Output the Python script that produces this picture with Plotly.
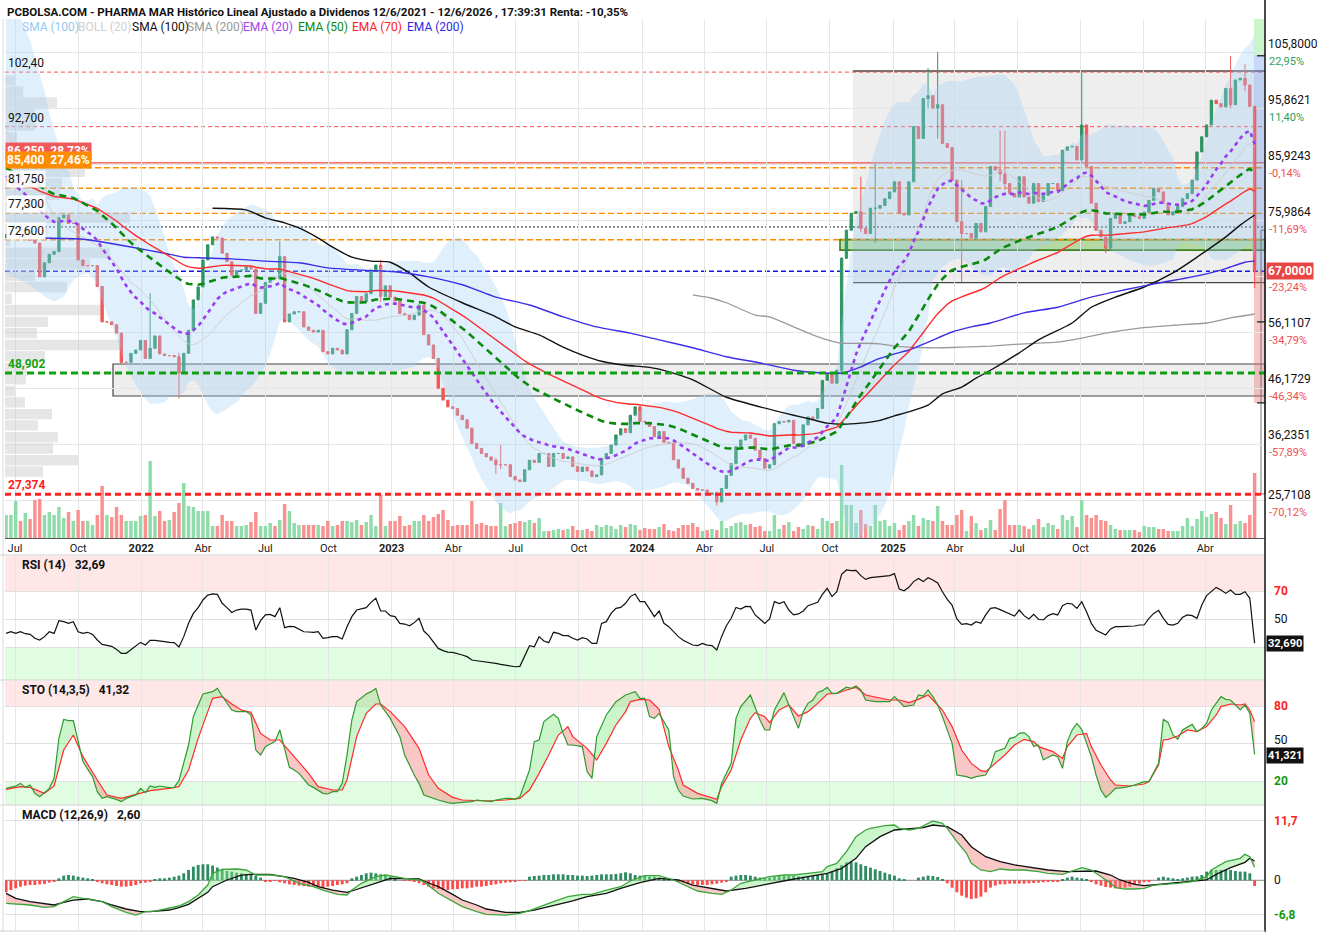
import numpy as np
import pandas as pd
import plotly.graph_objects as go

W, H = 1318, 935
FONT = "Roboto, Arial, sans-serif"

# ---------------- data ----------------
week0 = pd.Timestamp("2021-06-18")   # first weekly candle
first_open = 73.0
close = [
 73.5,74.5,75.0,73.0,74.0,72.5,72.0,66.0,68.5,70.0,
 70.5,76.5,77.0,75.5,75.5,69.0,68.0,68.0,68.0,64.3,
 58.0,58.0,57.5,56.0,50.8,50.8,52.4,53.0,54.7,51.5,
 53.3,55.5,52.3,52.0,52.0,51.8,48.9,52.4,56.5,61.9,
 64.2,69.0,71.7,73.1,72.9,70.2,68.7,66.3,67.1,67.2,
 67.8,67.4,59.5,61.3,65.0,65.8,65.7,69.6,58.0,59.4,
 59.8,59.8,57.1,56.5,56.2,56.5,52.7,52.3,53.3,53.0,
 52.3,56.6,59.5,62.5,61.6,63.0,67.2,68.1,62.5,64.4,
 62.4,61.7,59.5,59.2,58.4,59.2,61.0,55.7,53.9,51.5,
 46.2,44.1,42.9,42.6,41.4,40.6,39.1,36.4,35.5,34.6,
 34.0,33.4,32.6,32.6,32.6,30.5,29.9,29.6,31.7,33.4,
 33.0,34.6,34.6,32.3,34.6,34.6,33.7,34.0,32.3,31.4,
 32.2,31.5,30.5,30.8,33.7,34.6,36.1,37.9,39.0,38.3,
 41.4,42.9,40.3,40.2,39.4,37.6,38.5,36.6,36.4,33.5,
 32.0,30.2,29.3,28.4,28.1,28.1,27.3,27.6,26.0,28.4,
 30.7,32.8,35.8,37.0,37.9,37.3,35.2,33.7,32.0,32.6,
 39.9,40.3,40.2,40.5,36.4,35.8,39.7,41.1,40.8,42.6,
 47.6,48.8,47.1,49.4,69.3,74.3,77.3,77.6,74.6,73.7,
 78.2,78.2,78.7,79.9,81.1,82.9,77.3,77.0,82.9,92.7,
 90.6,97.7,98.2,96.0,96.6,89.7,89.0,83.2,75.8,73.7,
 73.7,72.9,75.5,74.0,78.5,85.6,85.0,84.3,82.6,80.8,
 80.2,83.8,80.2,79.1,82.6,79.4,80.5,82.6,82.6,81.3,
 88.5,89.1,89.2,86.8,93.0,85.6,79.1,74.3,73.1,71.1,
 76.4,77.3,75.5,75.8,77.0,76.7,76.4,77.5,79.6,81.7,
 81.1,79.1,77.0,77.6,78.5,79.9,80.8,83.2,88.2,90.9,
 93.0,97.4,96.8,96.2,99.5,96.6,101.0,101.3,100.1,96.3,
 67.0]
# visible long wicks: week -> (high, low)
wicks = {30: (63.1, 52.0), 36: (52.5, 44.4), 57: (72.3, 65.5), 78: (69.0, 61.5),
         102: (33.8, 31.0), 103: (36.1, 31.8), 148: (27.8, 25.3), 174: (69.5, 48.8),
         178: (83.8, 74.0), 181: (86.2, 72.0), 192: (103.1, 96.0), 194: (106.0, 90.6),
         199: (83.2, 65.1), 207: (92.0, 83.0), 208: (92.0, 81.5), 224: (102.5, 86.5),
         229: (73.0, 70.2), 255: (105.3, 96.0), 258: (103.8, 99.0), 260: (96.3, 64.0)}

vol_a = [23,23,37,17,25,19,38,39,23,26, 23,31,20,26,17,28,17,17,13,23,
         52,23,21,31,23,17,17,17,22,23, 77,22,27,17,18,26,35,55,32,31,
         27,27,27,12,12,23,17,17,12,12, 13,16,26,12,12,15,12,18,34,27,
         15,13,13,13,13,13,12,17]
vol_b = [12,13,17,17,16,18,13,16,23,12, 43,12,17,17,22,12,13,17,17,23,
         17,21,24,28,18,12,13,13,13,37, 14,15,13,12,12,35,12,14,15,17,
         16,18,15,20,7,7,8,9,8,9, 12,8,8,9,7,13,11,13,12,9, 13,11,14,13,8,10,9,9,11]
vol_c = [14,8,7,10,13,13,15,11,7,8, 9,8,17,10,12,15,16,13,14,11,
         12,7,7,23,9,13,16,7,11,9, 13,12,9,20,17,15,17,73,33,33,
         15,28,14,12,33,17,18,12,15,8, 13,17,23,12,20,18,17,32,17,13,
         13,23,28,7,22,15,8,10]
vol_d = [18,8,29,38,13,13,13,12,9,13, 19,11,15,13,9,23,18,22,11,38,
         23,20,23,18,17,13,9,8,8,8, 8,6,12,11,11,9,9,7,7,7,
         12,20,12,19,27,21,24,26,20,14, 33,14,17,15,23,65]
volume = vol_a + vol_b + vol_c + vol_d

prof_price = [100.9,98.9,97.0,94.9,92.9,90.8,88.8,86.7,84.7,82.6,80.6,78.5,76.5,74.4,72.4,
              70.3,68.3,66.2,64.2,62.1,60.1,58.0,56.0,53.9,51.9,49.8,47.8,45.7,43.7,41.6,
              39.6,37.5,35.5,33.4,31.4]
prof_vol = [10,18,52,30,30,12,8,80,80,57,55,40,125,42,5,105,85,30,62,7,97,43,32,115,40,
            22,21,10,20,47,33,53,48,73,38]

ema20_seed, ema50_seed, ema70_seed = 85.0, 85.8, 83.5
bb_up_head = [118,116,114,112,110,108,105,102,99,95,92,89.5,87.5,85,82,80.5,79.5,79.5,80]
bb_lo_head = [66.6,66.2,65.8,65.4,65.0,64.4,63.9,63.2,62.5,62.0,61.6,62.0,62.5,64.0,65.4,66.0,66.4,66.6,66.0]
bb_mid_head = [92,90.5,89,87.5,86,84.5,83,81.5,80,78.5,77,76,75,74.5,74,73.5,73,72.5,72]

sma100_pts = [(43,78.2),(50,77.9),(54,76.5),(58,75.6),(61,74.7),(65,72.9),(68,71.3),(72,69.5),
              (76,68.8),(80,68.6),(84,66.7),(88,64.2),(95,61.4),(102,58.9),(106,57.1),(111,55.7),
              (116,53.5),(120,52.1),(124,51.0),(129,50.3),(133,50.0),(136,49.6),(143,47.7),
              (150,44.6),(157,42.9),(164,41.4),(168,40.6),(171,40.0),(174,39.8),(178,40.0),
              (182,40.5),(185,41.3),(188,42.0),(192,43.2),(195,45.2),(199,46.4),(202,48.0),
              (205,49.4),(211,52.5),(215,54.8),(222,57.8),(226,60.6),(231,62.4),(237,64.2),
              (243,66.7),(248,69.5),(254,73.1),(257,75.2),(260,77.0)]
sma200_pts = [(143,62.8),(147,62.2),(150,61.4),(156,59.2),(159,58.9),(164,57.1),(168,55.7),
              (171,54.8),(174,54.2),(178,54.2),(182,54.1),(185,53.7),(188,53.5),(192,53.4),
              (195,53.4),(199,53.5),(205,53.7),(212,54.1),(219,54.4),(224,55.1),(229,56.0),
              (236,56.9),(243,57.4),(250,57.8),(255,58.7),(260,59.4)]
ema200_pts = [(8,72.9),(16,72.7),(20,72.2),(26,71.3),(33,70.2),(37,69.5),(40,69.4),(47,69.2),
              (54,68.8),(61,68.5),(67,67.6),(74,67.2),(81,66.9),(88,66.0),(95,64.6),(102,62.4),
              (109,61.0),(116,58.9),(123,57.1),(130,56.0),(136,54.8),(143,53.4),(150,51.8),
              (157,50.7),(164,49.4),(170,48.9),(174,48.9),(178,50.0),(181,51.2),(185,52.3),
              (188,53.0),(192,54.4),(197,56.2),(201,57.1),(205,57.8),(212,59.6),(219,60.6),
              (226,62.4),(233,63.7),(240,64.9),(247,66.0),(253,67.2),(258,68.6),(260,68.8)]

rsi = [39.7,40.9,39.7,40.9,39.5,39.0,36.2,35.0,37.4,40.9,
       39.7,48.8,48.1,46.9,48.1,40.9,39.7,40.5,39.0,35.0,
       31.9,31.4,30.5,28.3,25.5,25.5,28.3,30.9,33.3,31.4,
       34.7,34.7,34.0,33.8,33.3,33.1,30.0,37.4,46.9,54.0,
       58.1,63.6,67.1,67.9,67.6,61.2,58.1,54.7,56.4,57.1,
       57.1,56.4,42.1,48.8,52.9,53.3,51.7,58.1,43.8,44.7,
       44.5,42.9,40.9,40.7,40.5,40.9,36.2,36.7,37.4,37.4,
       35.7,44.5,51.7,56.4,57.1,58.1,61.9,64.8,55.7,55.7,
       52.4,51.7,46.9,46.4,45.2,47.4,50.5,41.4,38.1,33.3,
       29.0,27.4,26.4,26.2,25.5,24.3,23.1,20.7,20.2,19.8,
       19.3,18.8,18.3,17.6,17.1,16.2,15.9,16.2,23.1,30.9,
       30.2,37.4,34.3,33.1,40.5,39.7,38.1,38.1,36.2,35.0,
       36.7,35.7,32.6,32.6,46.9,48.1,54.0,57.6,58.3,61.2,
       66.0,67.9,62.4,62.4,57.1,51.7,55.7,
       46.9,44.5,40.9,37.4,34.8,33.3,31.4,31.0,32.6,31.4,
       31.0,27.9,37.4,45.2,50.5,58.3,57.1,59.0,58.8,52.9,
       50.0,46.9,50.0,62.4,61.0,62.4,56.4,52.9,53.6,55.7,
       59.5,60.5,61.9,67.6,71.9,66.0,69.5,81.9,85.0,84.5,
       84.8,81.0,78.3,79.5,79.8,80.0,80.5,81.0,82.4,71.4,
       70.2,72.6,76.7,79.0,76.7,79.5,77.9,75.7,69.5,64.0,
       60.0,50.0,46.2,46.7,45.7,48.1,46.9,52.9,57.6,58.1,
       56.7,55.2,53.3,52.1,56.4,52.4,50.0,53.3,49.8,49.3,
       52.4,53.8,52.9,59.5,61.2,60.7,57.6,62.4,55.2,46.9,
       41.9,40.0,38.6,42.9,44.5,44.5,44.5,44.5,45.0,45.7,
       45.7,50.5,54.0,56.2,50.5,46.2,45.7,46.9,51.2,52.9,
       52.4,50.5,60.0,66.7,70.0,72.6,70.7,68.3,70.7,67.6,
       67.6,69.5,64.8,32.69]

sto_k_pts = [(0,14.1),(2,16.0),(3,18.1),(4,14.9),(5,16.8),(6,10.1),(7,7.5),(9,14.1),(10,22.1),
 (11,54.1),(12,69.3),(13,68.3),(14,68.3),(15,51.5),(16,35.5),(18,23.5),(19,11.5),(20,6.1),
 (21,7.5),(23,5.3),(24,3.5),(25,6.1),(27,8.8),(28,14.1),(29,10.7),(30,16.0),(31,14.9),
 (32,16.0),(34,14.7),(35,14.9),(36,20.3),(38,48.8),(39,71.5),(40,80.8),(41,89.6),(43,91.5),
 (44,94.1),(45,88.0),(46,82.1),(47,76.8),(48,75.5),(50,75.5),(51,72.8),(52,44.8),(53,40.8),
 (54,47.5),(55,49.6),(56,51.5),(57,60.8),(58,44.8),(59,30.9),(60,28.8),(61,26.1),(63,16.8),
 (64,14.9),(66,10.1),(67,9.6),(68,11.5),(69,11.5),(70,18.1),(71,40.8),(72,68.8),(73,83.5),
 (75,89.6),(76,91.5),(77,94.1),(78,80.8),(79,75.5),(80,70.1),(82,55.5),(83,40.8),(85,24.8),
 (86,18.1),(87,8.8),(89,6.1),(90,4.8),(92,2.7),(93,2.1),(95,2.9),(97,3.5),(98,4.8),(100,4.3),
 (101,3.5),(102,4.8),(104,6.1),(105,6.1),(106,5.3),(107,7.5),(109,28.8),(110,51.5),
 (111,52.8),(112,67.5),(114,73.3),(115,70.1),(116,58.1),(117,48.8),(118,48.8),(120,47.5),
 (121,27.5),(122,22.1),(123,55.5),(125,72.8),(127,83.5),(128,86.1),(129,88.8),(131,91.5),
 (132,86.1),(133,86.1),(134,71.5),(135,70.1),(136,74.1),
 (138,60.8),(139,23.5),(140,12.8),(141,8.0),(143,5.6),(145,6.1),(147,4.3),(148,2.1),
 (149,18.1),(151,34.1),(152,70.1),(153,79.5),(155,88.8),(156,78.1),(157,68.8),(158,60.8),
 (159,60.8),(160,76.8),(161,83.5),(162,90.7),(163,80.8),(164,71.5),(165,62.1),(166,75.5),
 (167,82.1),(168,84.8),(169,90.7),(170,92.3),(171,94.9),(172,90.1),(173,90.1),(175,95.0),
 (176,94.1),(177,96.0),(178,92.8),(179,84.8),(181,83.5),(182,83.5),(184,83.5),(185,87.5),
 (186,83.5),(187,79.5),(189,80.8),(190,88.8),(191,88.0),(192,92.8),(193,87.5),(194,80.8),
 (195,71.5),(197,50.1),(198,24.8),(200,23.5),(201,22.1),(202,23.5),(204,24.8),(205,31.5),
 (206,43.5),(208,46.1),(209,54.1),(210,54.9),(211,58.1),(212,58.7),(213,55.5),(214,47.5),
 (215,48.8),(216,36.8),(218,40.8),(219,39.5),(220,30.1),(221,51.5),(222,60.8),(223,66.1),
 (224,61.3),(226,39.5),(227,24.8),(228,12.8),(229,6.9),(230,10.1),(231,14.1),(233,14.9),
 (235,16.8),(237,19.5),(238,19.5),(240,34.1),(241,69.3),(242,66.7),(243,56.8),(244,53.3),
 (245,60.8),(247,65.3),(248,59.5),(249,62.1),(250,66.1),(251,76.8),(253,87.5),(254,85.3),
 (255,84.8),(257,76.8),(258,80.8),(259,74.1),(260,41.32)]
sto_d_pts = [(0,13.3),(3,15.5),(5,14.9),(8,10.1),(10,16.0),(12,44.8),(14,56.8),(16,39.5),
 (19,20.8),(21,8.8),(24,6.1),(27,9.3),(30,12.3),(34,14.1),(36,15.5),(38,28.8),(40,54.1),
 (42,75.5),(43,86.1),(45,87.5),(47,81.6),(49,76.8),(51,74.9),(53,58.1),(55,52.8),(57,52.8),
 (60,39.5),(63,26.1),(65,15.5),(68,12.8),(70,12.8),(71,20.8),(73,55.5),(75,74.1),(77,81.6),
 (78,81.6),(80,75.5),(83,63.5),(86,46.1),(88,24.8),(90,14.1),(93,6.9),(95,4.8),(98,4.0),
 (100,4.0),(104,4.8),(107,6.1),(109,12.8),(111,26.1),(113,40.8),(115,56.8),(117,63.5),
 (118,55.5),(121,46.1),(123,36.8),(125,50.1),(127,64.8),(129,75.5),(130,83.5),(132,85.3),
 (134,84.8),(136,77.3),
 (138,47.5),(140,28.8),(141,16.8),(144,10.1),(146,7.5),(148,5.3),(149,15.5),(151,28.8),
 (153,52.8),(155,70.1),(156,74.7),(158,71.5),(159,66.7),(161,76.8),(163,80.8),(165,72.0),
 (167,75.5),(169,82.1),(171,89.6),(173,90.1),(175,92.8),(177,94.9),(179,88.8),(182,86.1),
 (184,84.8),(186,84.8),(188,82.7),(190,85.3),(192,88.8),(193,84.8),(195,76.8),(197,63.5),
 (199,44.8),(201,34.1),(203,28.3),(204,27.5),(206,34.1),(208,40.8),(210,48.8),(212,53.3),
 (214,51.5),(215,47.5),(218,43.5),(220,38.1),(221,47.5),(223,56.8),(225,58.1),(226,47.5),
 (228,32.8),(230,20.8),(231,16.8),(234,16.0),(237,17.6),(238,19.5),(240,32.8),(241,52.8),
 (242,53.3),(244,56.0),(246,60.8),(248,59.5),(250,63.5),(252,72.8),(253,79.5),(255,81.6),
 (257,80.8),(258,81.6),(259,76.8),(260,67.5)]

macd_pts = [(0,-4.55),(2,-4.68),(5,-4.87),(8,-5.33),(10,-5.20),(12,-4.22),(14,-3.23),(16,-3.56),
 (18,-3.89),(20,-4.22),(22,-5.20),(25,-6.32),(27,-6.85),(29,-6.19),(31,-6.06),(34,-5.53),
 (36,-5.07),(38,-4.22),(40,-2.90),(42,-0.93),(43,1.37),(45,2.16),(48,2.23),(50,2.03),
 (52,1.04),(55,1.04),(57,0.91),(58,0.72),(61,-0.60),(64,-1.26),(66,-1.92),(69,-2.77),
 (71,-2.90),(72,-1.92),(74,-0.60),(77,0.72),(79,1.04),(81,0.72),(83,0.39),(86,0.06),
 (87,-0.27),(90,-2.57),(93,-4.22),(95,-5.20),(98,-6.19),(100,-6.72),(104,-6.85),(107,-6.52),
 (109,-6.00),(112,-4.87),(114,-4.22),(117,-3.23),(120,-2.77),(122,-2.77),(125,-1.92),
 (128,-1.26),(130,-0.14),(133,0.91),(136,0.91),
 (139,0.06),(142,-1.26),(144,-2.11),(147,-2.57),(149,-2.77),(151,-1.92),(153,-0.60),
 (157,0.26),(159,0.72),(162,1.04),(164,1.04),(167,1.37),(170,1.70),(171,2.69),(173,3.34),
 (175,5.65),(177,8.60),(179,9.92),(180,10.25),(183,10.77),(185,10.90),(186,10.25),(188,9.92),
 (190,10.25),(192,11.23),(193,11.69),(195,11.23),(196,10.25),(198,7.62),(200,5.32),(201,3.34),
 (203,2.03),(205,1.70),(207,2.23),(209,2.03),(212,2.03),(215,1.70),(217,1.37),(220,1.17),
 (222,1.83),(224,2.49),(226,2.03),(228,0.72),(230,-0.60),(231,-1.45),(233,-1.72),(235,-1.72),
 (237,-1.59),(239,-0.93),(242,-0.80),(244,-0.60),(247,-0.27),(250,0.72),(251,2.03),(254,3.67),
 (257,4.33),(258,5.12),(259,4.66),(260,2.60)]
signal_pts = [(0,-2.57),(2,-3.56),(5,-4.22),(8,-4.68),(10,-4.87),(12,-4.35),(14,-3.89),(17,-3.69),
 (20,-4.22),(22,-4.87),(25,-5.66),(28,-6.19),(30,-6.19),(34,-5.86),(36,-5.40),(38,-4.74),
 (40,-3.56),(42,-2.37),(43,-1.26),(46,0.06),(49,1.04),(51,1.17),(55,1.17),(57,0.91),(60,0.39),
 (63,-0.40),(65,-1.26),(68,-1.92),(71,-2.37),(72,-2.11),(75,-1.26),(78,-0.27),(80,0.39),
 (83,0.26),(86,0.26),(87,-0.14),(90,-1.26),(93,-2.77),(95,-3.89),(98,-4.87),(100,-5.66),
 (104,-6.32),(107,-6.32),(110,-5.86),(113,-5.20),(115,-4.74),(118,-4.08),(121,-3.23),
 (125,-2.57),(128,-1.58),(132,-0.47),(136,0.39),
 (140,0.06),(143,-0.93),(147,-1.59),(150,-2.11),(154,-1.59),(158,-0.80),(163,0.06),(167,0.72),
 (171,1.37),(174,2.36),(177,4.33),(179,6.63),(182,8.60),(185,9.92),(188,10.12),(191,10.38),
 (193,10.90),(196,10.58),(199,8.93),(201,6.63),(204,4.66),(207,3.67),(210,3.02),(214,2.49),
 (217,2.03),(221,1.70),(224,1.70),(227,1.83),(230,1.04),(232,0.06),(235,-0.80),(237,-1.06),
 (240,-0.80),(243,-0.60),(246,-0.27),(250,0.06),(252,1.17),(255,2.49),(258,3.54),(259,4.33),
 (260,3.80)]
macd_hist = [-2.37,-1.91,-1.58,-1.25,-1.05,-0.92,-0.92,-0.79,-0.72,-0.46,-0.26,
 0.39,0.92,1.05,0.92,0.72,0.53,0.39,0.26,
 -0.26,-0.59,-0.79,-0.92,-1.12,-1.25,-1.25,-1.12,-0.92,-0.59,-0.46,-0.26,
 0.26,0.39,0.39,0.53,0.72,0.92,1.38,2.04,2.70,3.03,3.16,3.16,2.89,2.50,2.24,1.84,1.71,1.51,1.38,1.18,1.05,0.92,0.53,
 -0.26,-0.26,-0.13,
 -0.39,-0.59,-0.79,-0.92,-1.05,-1.12,-1.25,-1.25,-1.38,-1.45,-1.25,-1.12,-0.92,-0.79,-0.59,
 0.39,0.72,1.05,1.38,1.51,1.38,1.18,1.05,0.72,0.39,
 0.0,-0.07,-0.13,
 -0.26,-0.59,-0.92,-1.25,-1.58,-1.71,-1.91,-1.91,-1.78,-1.71,-1.58,-1.58,-1.45,-1.25,-1.25,-1.12,-0.92,-0.79,-0.59,-0.46,-0.39,-0.26,-0.13,-0.13,
 0.72,0.85,0.92,1.05,1.05,1.18,1.18,1.18,1.05,1.05,0.92,0.92,0.85,0.92,1.05,1.18,1.18,1.18,1.25,1.38,1.58,1.38,1.05,0.92,0.92,0.72,0.72,0.53,
 0.39,0.26,0.0,
 -0.26,-0.39,-0.59,-0.79,-0.92,-0.92,-0.92,-0.79,-0.66,-0.46,-0.26,
 0.72,0.92,1.05,1.05,0.92,0.72,0.53,
 0.39,0.53,0.72,0.85,0.92,0.92,0.92,0.79,0.72,0.85,0.92,1.05,1.18,
 1.38,1.71,2.37,3.03,3.55,3.68,3.55,3.16,2.83,2.50,2.17,1.84,1.51,1.18,0.92,
 0.39,0.13,0.0,0.0,
 0.53,0.72,0.92,0.85,0.66,0.26,
 -0.59,-1.45,-2.37,-3.03,-3.42,-3.68,-3.55,-3.22,-2.37,-1.45,-1.05,-0.79,-0.79,-0.66,-0.66,-0.66,-0.66,-0.59,-0.53,-0.46,-0.39,-0.33,-0.26,-0.20,
 0.26,0.53,0.72,0.53,0.39,0.20,
 -0.26,-0.79,-1.05,-1.32,-1.45,-1.58,-1.58,-1.45,-1.25,-0.92,-0.66,-0.39,-0.20,
 0.0,0.53,0.72,0.53,0.39,0.26,0.39,0.53,0.72,0.79,
 1.05,1.71,2.04,2.04,2.04,2.04,2.04,1.84,1.71,1.71,1.38,
 -1.12]

tick_dates = ["2021-07-01","2021-10-01","2022-01-01","2022-04-01","2022-07-01","2022-10-01",
              "2023-01-01","2023-04-01","2023-07-01","2023-10-01","2024-01-01","2024-04-01",
              "2024-07-01","2024-10-01","2025-01-01","2025-04-01","2025-07-01","2025-10-01",
              "2026-01-01","2026-04-01"]
tick_text = ["Jul","Oct","<b>2022</b>","Abr","Jul","Oct","<b>2023</b>","Abr","Jul","Oct",
             "<b>2024</b>","Abr","Jul","Oct","<b>2025</b>","Abr","Jul","Oct","<b>2026</b>","Abr"]
price_grid = [105.8, 95.8621, 85.9243, 75.9864, 66.0486, 56.1107, 46.1729, 36.2351, 26.2972]
right_labels = [(105.8,"105,8000","22,95%"),(95.8621,"95,8621","11,40%"),(85.9243,"85,9243","-0,14%"),
                (75.9864,"75,9864","-11,69%"),(56.1107,"56,1107","-34,79%"),(46.1729,"46,1729","-46,34%"),
                (36.2351,"36,2351","-57,89%"),(25.7108,"25,7108","-70,12%")]
last_price, last_pct = 67.0, "-23,24%"

# ---------------- preparation ----------------
n = len(close)
def fit(a):
    a = list(a)
    return (a + [a[-1]] * n)[:n]
volume, rsi, macd_hist = fit(volume), fit(rsi), fit(macd_hist)
dates = [week0 + pd.Timedelta(days=7 * i) for i in range(n)]
def wk(ws):
    return [week0 + pd.Timedelta(days=7 * float(w)) for w in ws]
def unz(pts):
    pts = sorted(dict(pts).items())
    return [p[0] for p in pts], [p[1] for p in pts]

opens = [first_open] + close[:-1]
highs = [max(o, c) for o, c in zip(opens, close)]
lows = [min(o, c) for o, c in zip(opens, close)]
for i, (h, l) in wicks.items():
    highs[i] = max(highs[i], h)
    lows[i] = min(lows[i], l)
up = [c >= o for o, c in zip(opens, close)]

def ema(vals, span, seed):
    a = 2.0 / (span + 1)
    e, out = seed, []
    for v in vals:
        e = e + a * (v - e)
        out.append(e)
    return out
ema20 = ema(close, 20, ema20_seed)
ema50 = ema(close, 50, ema50_seed)
ema70 = ema(close, 70, ema70_seed)

s = pd.Series(close)
m20 = s.rolling(20).mean()
sd20 = s.rolling(20).std(ddof=0)
bb_mid = bb_mid_head + list(m20[19:])
bb_up = bb_up_head + list((m20 + 2 * sd20)[19:])
bb_lo = bb_lo_head + list((m20 - 2 * sd20)[19:])

XR0 = pd.Timestamp("2021-06-16 10:09")
XR1 = pd.Timestamp("2026-06-27 03:50")
X0P, X1P = 5, 1265
MS_PER_PX = (XR1 - XR0).total_seconds() * 1000 / (X1P - X0P)
WEEK_MS = 7 * 86400000

def ydom(top, bottom):
    return [(H - bottom) / H, (H - top) / H]
def px(x):
    return x / W
def py(y):
    return 1 - y / H

PRICE_RANGE = [19.58, 111.84]

fig = go.Figure()

# volume (base subplot, drawn first)
fig.add_trace(go.Bar(x=dates, y=volume, width=0.72 * WEEK_MS,
                     marker=dict(color=["#8fdcaa" if u else "#f99191" for u in up], line_width=0),
                     xaxis="x", yaxis="y", hoverinfo="skip"))
# volume profile
fig.add_trace(go.Bar(y=prof_price, x=[v * MS_PER_PX for v in prof_vol], base=[XR0] * len(prof_vol),
                     orientation="h", width=1.85,
                     marker=dict(color="rgba(200,200,200,0.45)", line_width=0),
                     xaxis="x", yaxis="y2", hoverinfo="skip"))
# Bollinger band
fig.add_trace(go.Scatter(x=dates, y=bb_up, mode="lines", line=dict(width=0, color="rgba(0,0,0,0)"),
                         xaxis="x", yaxis="y2", hoverinfo="skip"))
fig.add_trace(go.Scatter(x=dates, y=bb_lo, mode="lines", line=dict(width=0, color="rgba(0,0,0,0)"),
                         fill="tonexty", fillcolor="rgba(160,205,245,0.33)",
                         xaxis="x", yaxis="y2", hoverinfo="skip"))
fig.add_trace(go.Scatter(x=dates, y=bb_mid, mode="lines", line=dict(width=1, color="rgba(205,205,205,0.9)"),
                         xaxis="x", yaxis="y2", hoverinfo="skip"))
# candles
fig.add_trace(go.Candlestick(x=dates, open=opens, high=highs, low=lows, close=close,
                             increasing=dict(line=dict(color="#2e9565", width=1), fillcolor="#2e9565"),
                             decreasing=dict(line=dict(color="#f25757", width=1), fillcolor="#f25757"),
                             whiskerwidth=0, xaxis="x", yaxis="y2", hoverinfo="skip"))
# moving averages
w, v = unz(sma200_pts)
fig.add_trace(go.Scatter(x=wk(w), y=v, mode="lines", line=dict(color="#9a9a9a", width=1.3, shape="spline", smoothing=0.6),
                         xaxis="x", yaxis="y2"))
w, v = unz(sma100_pts)
fig.add_trace(go.Scatter(x=wk(w), y=v, mode="lines", line=dict(color="#111111", width=1.4, shape="spline", smoothing=0.6),
                         xaxis="x", yaxis="y2"))
w, v = unz(ema200_pts)
fig.add_trace(go.Scatter(x=wk(w), y=v, mode="lines", line=dict(color="#3b2ee6", width=1.4, shape="spline", smoothing=0.6),
                         xaxis="x", yaxis="y2"))
fig.add_trace(go.Scatter(x=dates, y=ema70, mode="lines", line=dict(color="#ff2a2a", width=1.4),
                         xaxis="x", yaxis="y2"))
fig.add_trace(go.Scatter(x=dates, y=ema50, mode="lines", line=dict(color="#0a8a0a", width=2.6, dash="7px,5px"),
                         xaxis="x", yaxis="y2"))
fig.add_trace(go.Scatter(x=dates, y=ema20, mode="lines", line=dict(color="#9a3cf0", width=2.6, dash="4px,4px"),
                         xaxis="x", yaxis="y2"))

# RSI
fig.add_trace(go.Scatter(x=dates, y=rsi, mode="lines", line=dict(color="#111", width=1.2),
                         xaxis="x2", yaxis="y3"))

# two-line panels with coloured fill between lines
def band_pair(pa, pb, xa, ya, col_up, col_dn, la, lb):
    wa, va = unz(pa)
    wb, vb = unz(pb)
    g = np.arange(0, n - 1 + 1e-9, 0.25)
    ka = np.interp(g, wa, va)
    kb = np.interp(g, wb, vb)
    gd = wk(g)
    for col, sel in ((col_up, np.maximum(ka, kb)), (col_dn, np.minimum(ka, kb))):
        fig.add_trace(go.Scatter(x=gd, y=kb, mode="lines", line=dict(width=0, color="rgba(0,0,0,0)"),
                                 xaxis=xa, yaxis=ya, hoverinfo="skip"))
        fig.add_trace(go.Scatter(x=gd, y=sel, mode="lines", line=dict(width=0, color="rgba(0,0,0,0)"),
                                 fill="tonexty", fillcolor=col, xaxis=xa, yaxis=ya, hoverinfo="skip"))
    fig.add_trace(go.Scatter(x=wk(wb), y=vb, mode="lines", line=lb, xaxis=xa, yaxis=ya))
    fig.add_trace(go.Scatter(x=wk(wa), y=va, mode="lines", line=la, xaxis=xa, yaxis=ya))

band_pair(sto_k_pts, sto_d_pts, "x3", "y4", "rgba(140,235,140,0.45)", "rgba(245,130,130,0.45)",
          dict(color="#2f9a2f", width=1.2), dict(color="#ff2b2b", width=1.2))

# MACD
fig.add_trace(go.Bar(x=dates, y=macd_hist, width=0.6 * WEEK_MS,
                     marker=dict(color=["#2e8b62" if h >= 0 else "#ff4a4a" for h in macd_hist], line_width=0),
                     xaxis="x4", yaxis="y5", hoverinfo="skip"))
band_pair(macd_pts, signal_pts, "x4", "y5", "rgba(140,235,140,0.45)", "rgba(245,130,130,0.45)",
          dict(color="#3aa63a", width=1.3), dict(color="#111", width=1.3))

# ---------------- axes ----------------
xcommon = dict(type="date", range=[XR0, XR1], domain=[px(X0P), px(X1P)], tickvals=tick_dates,
               showgrid=True, gridcolor="#e6e6e6", gridwidth=1, zeroline=False, ticks="",
               rangeslider=dict(visible=False), fixedrange=True)
layout_axes = dict(
    xaxis=dict(**xcommon, anchor="y", ticktext=tick_text, showticklabels=True,
               tickfont=dict(family=FONT, size=11, color="#222"), showline=True, linecolor="#555", linewidth=1),
    xaxis2=dict(**xcommon, anchor="y3", matches="x", showticklabels=False),
    xaxis3=dict(**xcommon, anchor="y4", matches="x", showticklabels=False),
    xaxis4=dict(**xcommon, anchor="y5", matches="x", showticklabels=False),
    yaxis=dict(domain=ydom(19, 538), range=[0, 519], visible=False, fixedrange=True),
    yaxis2=dict(overlaying="y", side="right", anchor="x", range=PRICE_RANGE, tickvals=price_grid,
                showticklabels=False, showgrid=True, gridcolor="#e6e6e6", zeroline=False, ticks="", fixedrange=True),
    yaxis3=dict(domain=ydom(556, 680), anchor="x2", range=[6.43, 95], tickvals=[30, 50, 70],
                showticklabels=False, showgrid=True, gridcolor="#e0e0e0", zeroline=False, ticks="", fixedrange=True),
    yaxis4=dict(domain=ydom(681, 805), anchor="x3", range=[0.8, 100], tickvals=[20, 50, 80],
                showticklabels=False, showgrid=True, gridcolor="#e0e0e0", zeroline=False, ticks="", fixedrange=True),
    yaxis5=dict(domain=ydom(806, 930), anchor="x4", range=[-9.80, 14.65], tickvals=[-6.8, 11.7],
                showticklabels=False, showgrid=True, gridcolor="#e0e0e0", zeroline=False, ticks="", fixedrange=True),
)

# ---------------- shapes ----------------
shapes = []
def hline(yv, color, width, dash, x0=X0P, layer="below", yref="y2"):
    shapes.append(dict(type="line", xref="paper", yref=yref, x0=px(x0), x1=px(X1P), y0=yv, y1=yv,
                       line=dict(color=color, width=width, dash=dash), layer=layer))
def rect(x0, x1, y0, y1, fill, lcolor=None, lwidth=0, layer="below", yref="y2"):
    shapes.append(dict(type="rect", xref="paper", yref=yref, x0=px(x0), x1=px(x1), y0=y0, y1=y1,
                       fillcolor=fill, line=dict(color=lcolor or "rgba(0,0,0,0)", width=lwidth), layer=layer))

# indicator zones
rect(X0P, X1P, 70, 95, "#ffe7e7", yref="y3")
rect(X0P, X1P, 6.43, 30, "#e1fde1", yref="y3")
rect(X0P, X1P, 80, 100, "#ffe7e7", yref="y4")
rect(X0P, X1P, 0.8, 20, "#e1fde1", yref="y4")
hline(0, "#a0a0a0", 1.2, "solid", yref="y5")

# price boxes
rect(113, X1P, 44.82, 50.51, "rgba(200,200,200,0.30)", "#444", 1.2)
rect(853, X1P, 64.97, 102.6, "rgba(200,200,200,0.30)")
hline(102.6, "#444", 1.6, "solid", x0=853)
hline(64.97, "#444", 1.4, "solid", x0=853)
rect(840, X1P, 70.75, 72.62, "rgba(110,190,70,0.45)", "#3f7f1f", 1.6)

# level lines
hline(102.40, "#ff5050", 1, "4px,3px")
hline(92.70, "#ff5050", 1, "4px,3px")
hline(86.25, "#f04848", 1.3, "solid", x0=85)
for lv in (85.40, 81.75, 77.30, 72.60):
    hline(lv, "#ff8c00", 1.3, "6px,3px")
hline(74.87, "#222", 1, "2px,2px", x0=45)
hline(67.0, "#1515e0", 1.3, "5px,3px")
hline(48.902, "#11a011", 3, "7px,4px", layer="above")
hline(27.374, "#ff2020", 3, "6px,4px", layer="above")

# right-edge range markers
rect(1254, X1P, 105.4, 111.84, "rgba(175,240,175,0.65)")
rect(1254, X1P, 67.0, 105.4, "rgba(120,160,235,0.40)")
rect(1254, X1P, 43.6, 67.0, "rgba(235,110,110,0.38)")
rect(1261, X1P, 27.4, 74.3, "rgba(0,0,0,0)", "#777", 1)
for lv in (105.3, 58.0, 43.6):
    shapes.append(dict(type="line", xref="paper", yref="y2", x0=px(1257), x1=px(X1P), y0=lv, y1=lv,
                       line=dict(color="#111", width=1.2)))

# frames
for yy in (555, 680, 805):
    shapes.append(dict(type="line", xref="paper", yref="paper", x0=0, x1=px(X1P), y0=py(yy), y1=py(yy),
                       line=dict(color="#d0d0d0", width=1)))
shapes.append(dict(type="line", xref="paper", yref="paper", x0=px(X1P), x1=px(X1P), y0=py(932), y1=1,
                   line=dict(color="#111", width=1.5)))
shapes.append(dict(type="line", xref="paper", yref="paper", x0=px(3), x1=px(3), y0=py(932), y1=py(19),
                   line=dict(color="#dcdcdc", width=1)))
shapes.append(dict(type="line", xref="paper", yref="paper", x0=0, x1=px(X1P), y0=py(931), y1=py(931),
                   line=dict(color="#cfcfcf", width=1)))

# ---------------- annotations ----------------
ann = []
def text(x, y, t, size=12, color="#111", xanchor="left", yanchor="middle", xref="paper", yref="paper",
         bg=None, bold=False, yshift=0, family=FONT):
    ann.append(dict(x=x, y=y, xref=xref, yref=yref, text=("<b>%s</b>" % t) if bold else t, showarrow=False,
                    xanchor=xanchor, yanchor=yanchor, yshift=yshift,
                    font=dict(family=family, size=size, color=color),
                    bgcolor=bg, borderpad=1))

text(px(5), py(12), "PCBOLSA.COM - PHARMA MAR Histórico Lineal Ajustado a Dividenos 12/6/2021 - 12/6/2026 , 17:39:31 Renta: -10,35%",
     size=11.5, bold=True)
legend_items = [(20, "SMA (100)", "#93caf0"), (76, "BOLL (20)", "#cfcfcf"), (130, "SMA (100)", "#111"),
                (185, "SMA (200)", "#999"), (241, "EMA (20)", "#a044f0"), (296, "EMA (50)", "#0a8a0a"),
                (350, "EMA (70)", "#ff2020"), (405, "EMA (200)", "#2a2ae6")]
for x, t, c in legend_items:
    text(px(x), py(27), t, size=12, color=c)

# left level labels
text(px(6), 102.40, "102,40", yref="y2", yanchor="bottom")
text(px(6), 92.70, "92,700", yref="y2", yanchor="bottom")
text(px(5), 86.25, "86,250  28,73%", yref="y2", yanchor="bottom", bg="#f05a5a", color="white", bold=True, yshift=3)
text(px(5), 85.40, "85,400  27,46%", yref="y2", yanchor="bottom", bg="#ff8c00", color="white", bold=True, yshift=-1)
text(px(6), 81.75, "81,750", yref="y2", yanchor="bottom", bg="rgba(255,255,255,0.9)")
text(px(6), 77.30, "77,300", yref="y2", yanchor="bottom", bg="rgba(255,255,255,0.9)")
text(px(6), 72.60, "72,600", yref="y2", yanchor="bottom", bg="rgba(255,255,255,0.9)")
text(px(6), 48.902, "48,902", yref="y2", yanchor="bottom", color="#11a011", bold=True)
text(px(6), 27.374, "27,374", yref="y2", yanchor="bottom", color="#ff2020", bold=True)

# right axis labels
for val, lab, pct in right_labels:
    text(px(1266), val, lab, yref="y2", yanchor="bottom", size=12, color="#111")
    text(px(1267), val, pct, yref="y2", yanchor="top", size=11,
         color="#2e9e5e" if not pct.startswith("-") else "#f05050")
text(px(1266), last_price, "67,0000", yref="y2", yanchor="middle", bg="#e84545", color="white", size=12, bold=True)
text(px(1267), last_price, last_pct, yref="y2", yanchor="top", size=11, color="#f05050", yshift=-8)

# indicator panels
text(px(20), py(565), "RSI (14)   32,69", size=12, bold=True)
text(px(1272), 70, "70", yref="y3", color="#ff2020", bold=True, size=12)
text(px(1272), 50, "50", yref="y3", color="#111", size=12)
text(px(1266), 32.69, "32,690", yref="y3", bg="#111", color="white", size=11, bold=True)

text(px(20), py(690), "STO (14,3,5)   41,32", size=12, bold=True)
text(px(1272), 80, "80", yref="y4", color="#ff2020", bold=True, size=12)
text(px(1272), 50, "50", yref="y4", color="#111", size=12, yshift=3)
text(px(1272), 20, "20", yref="y4", color="#119911", bold=True, size=12)
text(px(1266), 41.32, "41,321", yref="y4", bg="#111", color="white", size=11, bold=True, yshift=-1)

text(px(20), py(815), "MACD (12,26,9)   2,60", size=12, bold=True)
text(px(1272), 11.7, "11,7", yref="y5", color="#ff2020", bold=True, size=12)
text(px(1272), 0, "0", yref="y5", color="#111", size=12)
text(px(1272), -6.8, "-6,8", yref="y5", color="#119911", bold=True, size=12)

fig.update_layout(
    width=W, height=H, margin=dict(l=0, r=0, t=0, b=0),
    paper_bgcolor="white", plot_bgcolor="rgba(0,0,0,0)",
    showlegend=False, barmode="overlay", hovermode=False,
    font=dict(family=FONT, size=12, color="#111"),
    shapes=shapes, annotations=ann, **layout_axes)

fig.write_html("out.html")
